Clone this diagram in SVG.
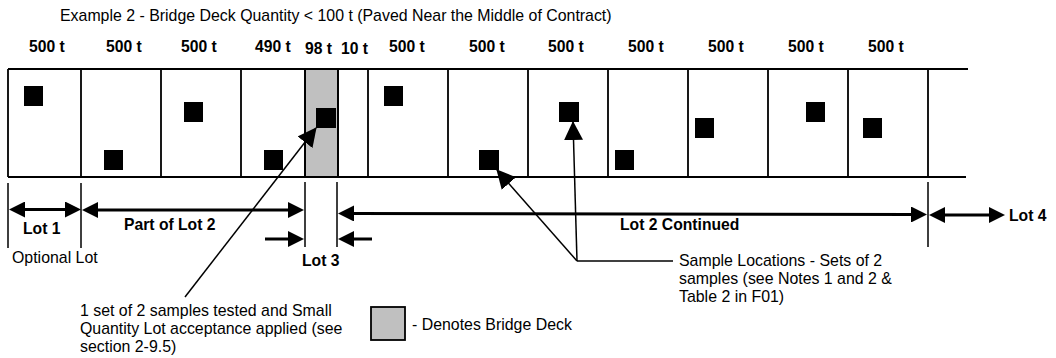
<svg xmlns="http://www.w3.org/2000/svg" width="1056" height="358" viewBox="0 0 1056 358">
<defs>
<style>
text{font-family:"Liberation Sans",Arial,sans-serif;font-size:15.9px;fill:#000}
.b{font-weight:bold;font-size:15.7px}
.edge{stroke:#000;stroke-width:1.8;fill:none}
.tick{stroke:#000;stroke-width:1.5}
.dim{stroke:#000;stroke-width:3;marker-start:url(#dh);marker-end:url(#dh)}
.dim1{stroke:#000;stroke-width:3;marker-end:url(#dh)}
.lead{stroke:#000;stroke-width:1.5;fill:none}
.leada{stroke:#000;stroke-width:1.5;fill:none;marker-end:url(#lh)}
.sq{fill:#000}
.deck{fill:#c0c0c0;stroke:#000;stroke-width:1.8}
</style>
<marker id="dh" markerUnits="userSpaceOnUse" markerWidth="16" markerHeight="16" refX="0" refY="8" orient="auto-start-reverse" viewBox="0 0 16 16"><path d="M0,0 L16,8 L0,16z"/></marker>
<marker id="lh" markerUnits="userSpaceOnUse" markerWidth="19" markerHeight="19" refX="18" refY="9.5" orient="auto" viewBox="0 0 19 19"><path d="M0,0 L19,9.5 L0,19z"/></marker>
</defs>
<rect width="1056" height="358" fill="#fff"/>

<g id="title"><text x="60" y="21">Example 2 - Bridge Deck Quantity &lt; 100 t (Paved Near the Middle of Contract)</text></g>

<g id="quantities">
<text class="b" x="29" y="52">500 t</text>
<text class="b" x="106" y="52">500 t</text>
<text class="b" x="181" y="52">500 t</text>
<text class="b" x="255" y="52">490 t</text>
<text class="b" x="305" y="54">98 t</text>
<text class="b" x="341" y="54">10 t</text>
<text class="b" x="389" y="52">500 t</text>
<text class="b" x="469" y="52">500 t</text>
<text class="b" x="548" y="52">500 t</text>
<text class="b" x="628" y="52">500 t</text>
<text class="b" x="708" y="52">500 t</text>
<text class="b" x="788" y="52">500 t</text>
<text class="b" x="868" y="52">500 t</text>
</g>

<g id="strip">
<rect class="deck" x="305" y="69" width="33" height="108"/>
<path class="edge" d="M8,69 H968 M8,177 H966 M8,69 V177 M81,69 V177 M161,69 V177 M241,69 V177 M305,69 V177 M338,69 V177 M368,69 V177 M448,69 V177 M528,69 V177 M608,69 V177 M688,69 V177 M768,69 V177 M848,69 V177 M928,69 V177"/>
</g>

<g id="samples">
<rect class="sq" x="24" y="86" width="19" height="20"/>
<rect class="sq" x="104" y="150" width="19" height="20"/>
<rect class="sq" x="184" y="102" width="19" height="20"/>
<rect class="sq" x="264" y="150" width="19" height="20"/>
<rect class="sq" x="316" y="108" width="20" height="20"/>
<rect class="sq" x="384" y="86" width="19" height="20"/>
<rect class="sq" x="479" y="150" width="20" height="20"/>
<rect class="sq" x="559" y="102" width="20" height="20"/>
<rect class="sq" x="615" y="150" width="19" height="20"/>
<rect class="sq" x="695" y="118" width="19" height="20"/>
<rect class="sq" x="806" y="102" width="19" height="20"/>
<rect class="sq" x="863" y="118" width="19" height="20"/>
</g>

<g id="connectors">
<path class="tick" d="M8,183 V248 M81,183 V248 M305,182 V247 M337,182 V247 M928,182 V247"/>
<line class="dim" x1="25" y1="209.5" x2="65" y2="209.5"/>
<line class="dim" x1="98" y1="210" x2="288" y2="210"/>
<line class="dim" x1="354" y1="213.5" x2="911" y2="214.5"/>
<line class="dim" x1="945" y1="215" x2="989" y2="215"/>
<line class="dim1" x1="265" y1="239" x2="288" y2="239"/>
<line class="dim1" x1="372" y1="239" x2="354" y2="239"/>
<line class="leada" x1="185" y1="297" x2="316" y2="128"/>
<line class="lead" x1="577" y1="261" x2="673" y2="261"/>
<line class="leada" x1="577" y1="261" x2="497" y2="170"/>
<line class="leada" x1="577" y1="261" x2="573" y2="122"/>
</g>

<g id="lot-labels">
<text class="b" x="23" y="234">Lot 1</text>
<text class="b" x="124" y="230">Part of Lot 2</text>
<text class="b" x="302" y="266">Lot 3</text>
<text class="b" x="620" y="230">Lot 2 Continued</text>
<text class="b" x="1009" y="221">Lot 4</text>
<text x="12" y="263">Optional Lot</text>
</g>

<g id="note-lot3">
<text x="80" y="316">1 set of 2 samples tested and Small</text>
<text x="80" y="334">Quantity Lot acceptance applied (see</text>
<text x="80" y="352">section 2-9.5)</text>
</g>

<g id="legend">
<rect class="deck" x="371" y="307" width="34" height="33"/>
<text x="412" y="330">- Denotes Bridge Deck</text>
</g>

<g id="note-samples">
<text x="679" y="266">Sample Locations - Sets of 2</text>
<text x="679" y="284">samples (see Notes 1 and 2 &amp;</text>
<text x="679" y="302">Table 2 in F01)</text>
</g>
</svg>
